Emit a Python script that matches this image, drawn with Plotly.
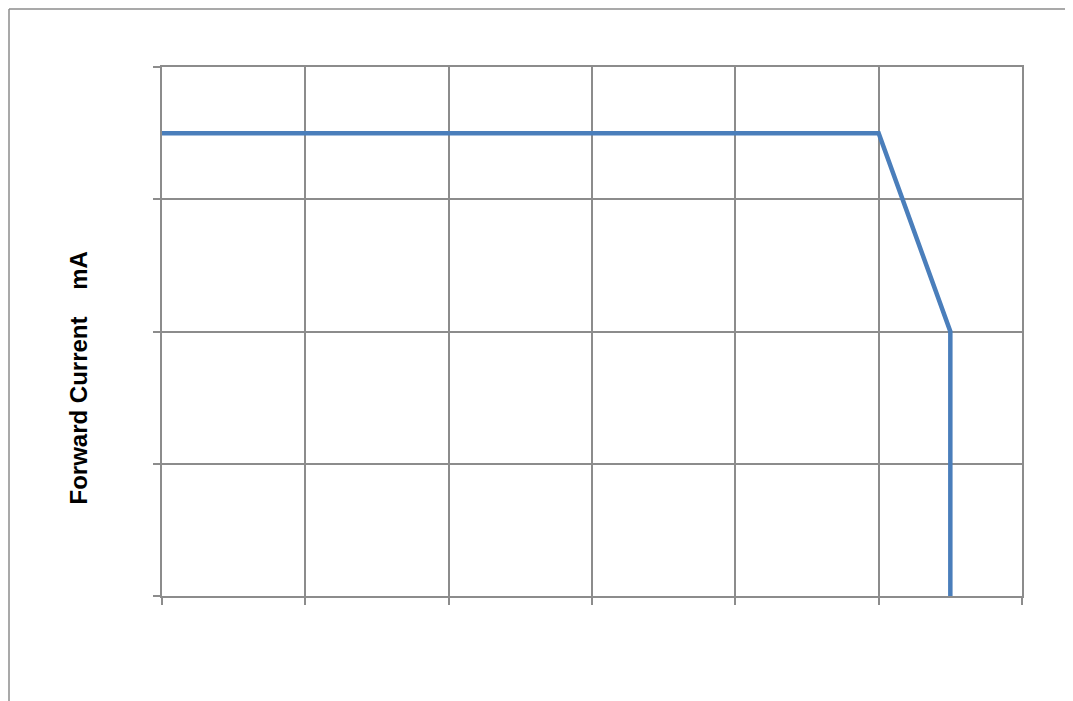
import plotly.graph_objects as go

# Data (axis units: 6 x-intervals, 4 y-intervals)
temperature = [0, 100, 110, 110]
forward_current = [35, 35, 20, 0]
x_ticks = [0, 20, 40, 60, 80, 100, 120]
y_ticks = [0, 10, 20, 30, 40]

OFF = 8  # default page body margin
W, H = 1073 - OFF, 701 - OFF
L, T = 162 - OFF, 67 - OFF
pw, ph = 860, 529
R = W - L - pw
B = H - T - ph

def px(x):
    return (x - OFF - L) / pw

def py(y):
    return (T + ph - (y - OFF)) / ph

fig = go.Figure()
fig.add_trace(go.Scatter(
    x=temperature, y=forward_current, mode="lines",
    line=dict(color="#4a7ebb", width=4.5), showlegend=False, hoverinfo="skip"))

grid = "#8c8c8c"
common = dict(showticklabels=False, showgrid=True, gridcolor=grid, gridwidth=1.5,
              ticks="outside", ticklen=7, tickcolor=grid, tickwidth=1.5,
              zeroline=False, showline=True, mirror=True, linecolor=grid, linewidth=1.5)
fig.update_xaxes(range=[0, 120], tickvals=x_ticks, **common)
fig.update_yaxes(range=[0, 40], tickvals=y_ticks, **common)

# outer frame (top and left edges visible)
fig.add_shape(type="line", xref="paper", yref="paper",
              x0=px(9), y0=py(9), x1=px(1090), y1=py(9),
              line=dict(color=grid, width=1.5))
fig.add_shape(type="line", xref="paper", yref="paper",
              x0=px(9), y0=py(9), x1=px(9), y1=py(720),
              line=dict(color=grid, width=1.5))

fig.add_annotation(text="<b>Forward Current\u00a0\u00a0\u00a0\u00a0mA</b>",
                   xref="paper", yref="paper", x=px(62), y=py(378),
                   textangle=-90, showarrow=False,
                   font=dict(family="Liberation Sans, Arial", size=24, color="black"))

fig.update_layout(width=W, height=H, margin=dict(l=L, r=R, t=T, b=B),
                  paper_bgcolor="white", plot_bgcolor="white")

fig.write_html("out.html")
